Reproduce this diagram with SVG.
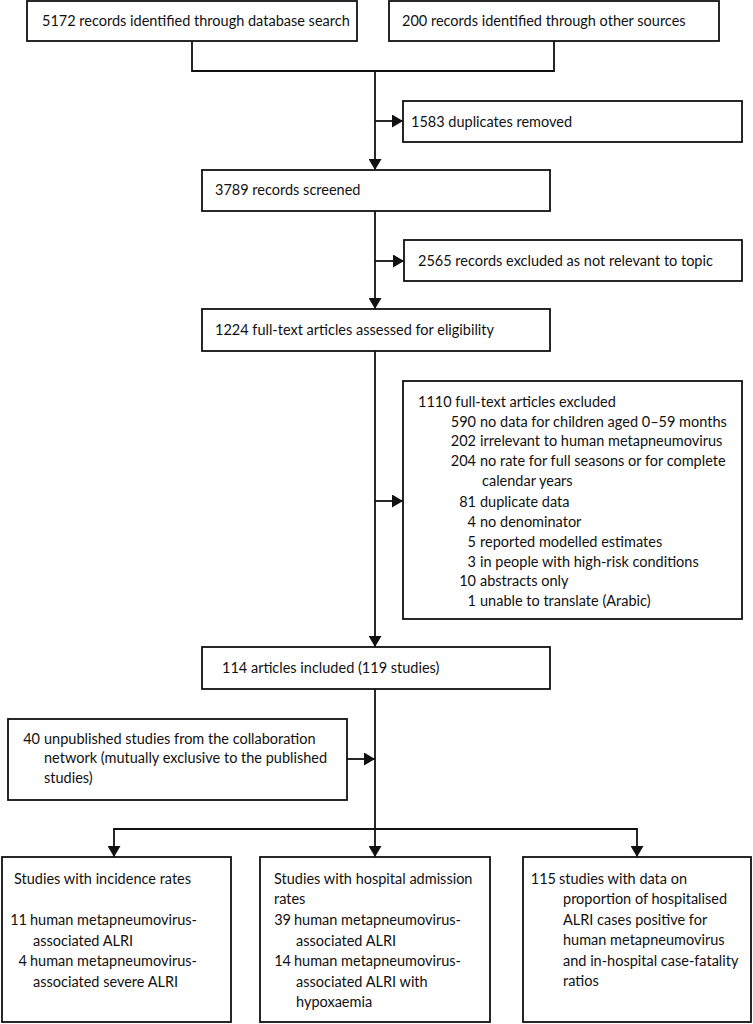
<svg xmlns="http://www.w3.org/2000/svg" width="753" height="1024" viewBox="0 0 753 1024">
<style>
.box{fill:#fff;stroke:#111;stroke-width:1.8}
.ln{fill:none;stroke:#111;stroke-width:1.8}
text{font-family:Lato,"Open Sans","Liberation Sans",sans-serif;font-size:14.5px;fill:#111}
.n{text-anchor:end}
</style>
<defs>
<marker id="ah" viewBox="0 0 11 13" refX="11" refY="6.5" markerWidth="11" markerHeight="13" markerUnits="userSpaceOnUse" orient="auto">
<path d="M0,0 L11,6.5 L0,13 Z" fill="#111"/>
</marker>
</defs>
<rect width="753" height="1024" fill="#fff"/>
<g id="connectors">
<path class="ln" d="M192,41 V71 H554 V41"/>
<path class="ln" d="M375,71 V170" marker-end="url(#ah)"/>
<path class="ln" d="M375,121 H403" marker-end="url(#ah)"/>
<path class="ln" d="M375,211 V309" marker-end="url(#ah)"/>
<path class="ln" d="M375,261 H404" marker-end="url(#ah)"/>
<path class="ln" d="M375,351 V647" marker-end="url(#ah)"/>
<path class="ln" d="M375,501 H403" marker-end="url(#ah)"/>
<path class="ln" d="M375,689 V857" marker-end="url(#ah)"/>
<path class="ln" d="M347,759 H375" marker-end="url(#ah)"/>
<path class="ln" d="M375,829 H114 V857" marker-end="url(#ah)"/>
<path class="ln" d="M375,829 H637 V857" marker-end="url(#ah)"/>
</g>
<g id="db-search">
<rect class="box" x="27" y="1" width="330" height="40"/>
<text x="42" y="26">5172 records identified through database search</text>
</g>
<g id="other-sources">
<rect class="box" x="389" y="1" width="330" height="40"/>
<text x="402" y="26">200 records identified through other sources</text>
</g>
<g id="duplicates">
<rect class="box" x="403" y="101" width="339" height="41"/>
<text x="411" y="127">1583 duplicates removed</text>
</g>
<g id="screened">
<rect class="box" x="202" y="170" width="348" height="41"/>
<text x="215" y="195">3789 records screened</text>
</g>
<g id="excluded-topic">
<rect class="box" x="404" y="240" width="338" height="41"/>
<text x="418" y="266">2565 records excluded as not relevant to topic</text>
</g>
<g id="full-text">
<rect class="box" x="202" y="309" width="348" height="42"/>
<text x="215" y="335">1224 full-text articles assessed for eligibility</text>
</g>
<g id="excluded-full-text">
<rect class="box" x="403" y="381" width="339" height="238"/>
<text x="418" y="407">1110 full-text articles excluded</text>
<text class="n" x="476" y="427">590</text><text x="480" y="427">no data for children aged 0–59 months</text>
<text class="n" x="476" y="446">202</text><text x="480" y="446">irrelevant to human metapneumovirus</text>
<text class="n" x="476" y="466">204</text><text x="480" y="466">no rate for full seasons or for complete</text>
<text x="482" y="486">calendar years</text>
<text class="n" x="476" y="507">81</text><text x="480" y="507">duplicate data</text>
<text class="n" x="476" y="527">4</text><text x="480" y="527">no denominator</text>
<text class="n" x="476" y="547">5</text><text x="480" y="547">reported modelled estimates</text>
<text class="n" x="476" y="567">3</text><text x="480" y="567">in people with high-risk conditions</text>
<text class="n" x="476" y="586">10</text><text x="480" y="586">abstracts only</text>
<text class="n" x="476" y="606">1</text><text x="480" y="606">unable to translate (Arabic)</text>
</g>
<g id="included">
<rect class="box" x="202" y="647" width="348" height="42"/>
<text x="222" y="673">114 articles included (119 studies)</text>
</g>
<g id="unpublished">
<rect class="box" x="8" y="719" width="339" height="81"/>
<text class="n" x="40" y="744">40</text><text x="44" y="744">unpublished studies from the collaboration</text>
<text x="44" y="763">network (mutually exclusive to the published</text>
<text x="44" y="783">studies)</text>
</g>
<g id="incidence">
<rect class="box" x="2" y="857" width="229" height="165"/>
<text x="14" y="884">Studies with incidence rates</text>
<text class="n" x="27" y="925">11</text><text x="30" y="925">human metapneumovirus-</text>
<text x="33" y="946">associated ALRI</text>
<text class="n" x="27" y="966">4</text><text x="30" y="966">human metapneumovirus-</text>
<text x="33" y="987">associated severe ALRI</text>
</g>
<g id="admission">
<rect class="box" x="260" y="857" width="230" height="165"/>
<text x="274" y="884">Studies with hospital admission</text>
<text x="274" y="904">rates</text>
<text class="n" x="291" y="925">39</text><text x="294" y="925">human metapneumovirus-</text>
<text x="296" y="946">associated ALRI</text>
<text class="n" x="291" y="966">14</text><text x="294" y="966">human metapneumovirus-</text>
<text x="296" y="987">associated ALRI with</text>
<text x="296" y="1007">hypoxaemia</text>
</g>
<g id="proportion">
<rect class="box" x="523" y="857" width="228" height="165"/>
<text class="n" x="556" y="884">115</text><text x="559" y="884">studies with data on</text>
<text x="563" y="904">proportion of hospitalised</text>
<text x="563" y="925">ALRI cases positive for</text>
<text x="563" y="945">human metapneumovirus</text>
<text x="563" y="966">and in-hospital case-fatality</text>
<text x="563" y="986">ratios</text>
</g>
</svg>
